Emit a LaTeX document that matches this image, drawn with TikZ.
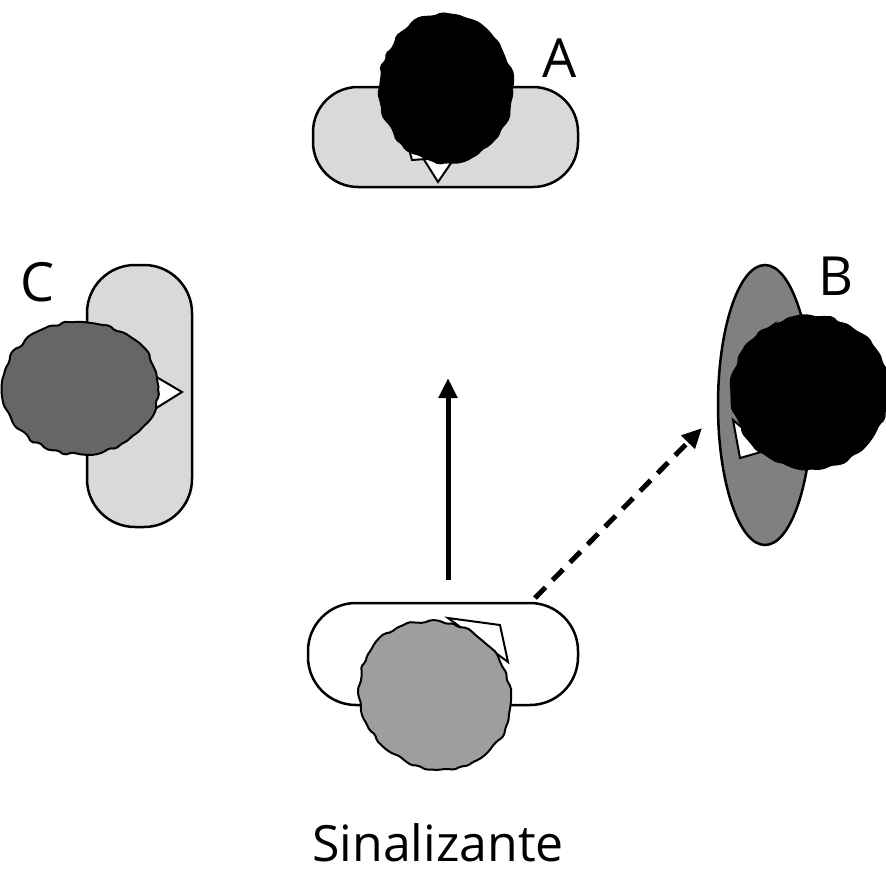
\documentclass[tikz,border=0pt]{standalone}
\usepackage{fontspec}
\setmainfont{Open Sans}
\usetikzlibrary{decorations.pathmorphing,arrows.meta}
\begin{document}
\begin{tikzpicture}[x=1pt,y=-1pt,
  body/.style={draw=black,line width=2.5pt,rounded corners=45pt},
  head/.style={draw=black,line width=2pt,decorate,decoration={random steps,segment length=7pt,amplitude=2pt},rounded corners=2pt},
  face/.style={draw=black,line width=2pt,fill=white},
  lbl/.style={font=\fontsize{54}{54}\selectfont,inner sep=0pt}]
\useasboundingbox (0,0) rectangle (886,879);
\pgfmathsetseed{7}
% A
\draw[body,fill=black!15] (313,87) rectangle (578,187);
\draw[face] (418,150) -- (438,182) -- (460,150) -- cycle;
\draw[face] (405,135) -- (412,160) -- (440,158) -- cycle;
\fill[black,head] (446,88) ellipse (66 and 74);
\node[lbl] (la) at (560,58) {A};
% B
\draw[draw=black,line width=2.5pt,fill=black!50] (765,405) ellipse (47 and 140);
\draw[face] (733,420) -- (740,458) -- (768,450) -- cycle;
\fill[black,head] (810,392) ellipse (78 and 76);
\node[lbl] (lb) at (836,276) {B};
% C
\draw[body,fill=black!15,rounded corners=48pt] (87,265) rectangle (192,527);
\draw[face] (148,372) -- (182,392) -- (150,412) -- cycle;
\fill[black!60,head] (80,388) ellipse (78 and 66);
\node[lbl] (lc) at (38,282) {C};
% Sinalizante
\draw[body,fill=white,rounded corners=48pt] (308,603) rectangle (578,705);
\draw[face] (448,618) -- (500,625) -- (508,662) -- cycle;
\fill[black!38,head,rotate around={-35:(435,695)}] (435,695) ellipse (78 and 72);
\node[lbl,font=\fontsize{50}{50}\selectfont] (ls) at (438,843) {Sinalizante};
% arrows
\coordinate (s1) at (448,580); \coordinate (e1) at (448,378);
\draw[line width=5pt,-{Triangle[length=20pt,width=18pt]}] (s1) -- (e1);
\coordinate (s2) at (535,598); \coordinate (e2) at (702,428);
\draw[line width=5pt,dash pattern=on 15pt off 10pt,-{Triangle[length=20pt,width=18pt]}] (s2) -- (e2);
\end{tikzpicture}
\end{document}
